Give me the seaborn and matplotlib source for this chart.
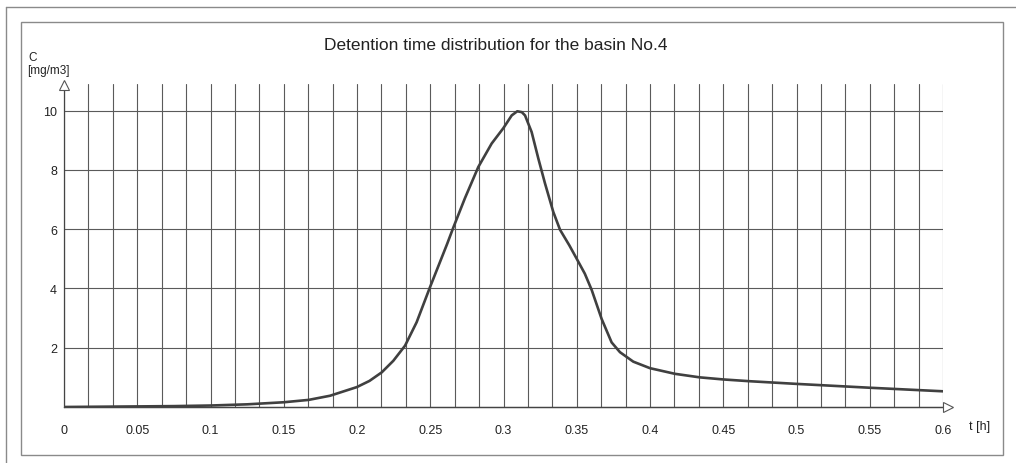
import numpy as np
import pandas as pd
import matplotlib
matplotlib.use('Agg')
import matplotlib.pyplot as plt
from matplotlib.patches import Rectangle
from matplotlib.lines import Line2D
import seaborn as sns

# values
t_h = [0.0, 0.025, 0.05, 0.075, 0.1, 0.125, 0.15, 0.167, 0.1816, 0.1998, 0.2085,
       0.2169, 0.2248, 0.2328, 0.2407, 0.2498, 0.2567, 0.2615, 0.2657, 0.2737,
       0.2828, 0.2919, 0.2999, 0.3056, 0.3094, 0.3125, 0.3147, 0.3192, 0.3238,
       0.3283, 0.334, 0.3386, 0.345, 0.35, 0.3555, 0.3602, 0.367, 0.3738,
       0.3795, 0.3886, 0.4, 0.417, 0.434, 0.45, 0.468, 0.5, 0.55, 0.6]
conc = [0.0, 0.01, 0.02, 0.03, 0.05, 0.09, 0.16, 0.24, 0.38, 0.67, 0.88,
        1.17, 1.56, 2.07, 2.86, 4.04, 4.9, 5.5, 6.05, 7.05,
        8.1, 8.89, 9.41, 9.84, 9.98, 9.95, 9.84, 9.28, 8.38,
        7.55, 6.58, 5.98, 5.45, 5.0, 4.5, 3.95, 2.97, 2.18,
        1.85, 1.53, 1.31, 1.12, 1.0, 0.93, 0.87, 0.78, 0.65, 0.53]

x_ticks = [0, 0.05, 0.1, 0.15, 0.2, 0.25, 0.3, 0.35, 0.4, 0.45, 0.5, 0.55, 0.6]
x_labels = ['0', '0.05', '0.1', '0.15', '0.2', '0.25', '0.3', '0.35', '0.4',
            '0.45', '0.5', '0.55', '0.6']
y_ticks = [2, 4, 6, 8, 10]

df = pd.DataFrame({'t': t_h, 'C': conc})

sns.set_style('white')
plt.rcParams['font.family'] = ['Liberation Sans', 'DejaVu Sans']

W, H = 1016, 464
fig = plt.figure(figsize=(W / 100, H / 100), dpi=100)
ax = fig.add_axes([64 / W, (H - 408) / H, 879 / W, (408 - 85) / H])

grid_col = '#5a5a5a'
ax.set_xlim(0, 0.6)
ax.set_ylim(0, 10.9)
ax.set_xticks(x_ticks)
ax.set_xticklabels(x_labels)
ax.set_xticks(np.arange(0, 0.6001, 1 / 60), minor=True)
ax.set_yticks(y_ticks)
ax.grid(True, which='both', axis='x', color=grid_col, lw=0.8)
ax.grid(True, which='major', axis='y', color=grid_col, lw=0.8)
ax.tick_params(axis='x', which='major', length=3, width=0.8, color=grid_col,
               labelsize=9, pad=9, labelcolor='#222222')
ax.tick_params(axis='x', which='minor', length=0)
ax.tick_params(axis='y', length=4, width=0.8, color=grid_col, labelsize=9,
               pad=1, labelcolor='#222222')
for s in ['top', 'right']:
    ax.spines[s].set_visible(False)
for s in ['left', 'bottom']:
    ax.spines[s].set_color('#444444')
    ax.spines[s].set_linewidth(0.9)

sns.lineplot(data=df, x='t', y='C', ax=ax, color='#404040', lw=1.9)
ax.lines[-1].set_solid_joinstyle('round')
ax.set_xlabel('')
ax.set_ylabel('')

# axis arrows
ax.plot([0.6 + 0.0035], [0], marker='>', ms=7, mfc='white', mec='#555555',
        mew=0.8, clip_on=False, zorder=5)
ax.plot([0, 0.6 + 0.002], [0, 0], color='#444444', lw=0.9, clip_on=False)
ax.plot([0], [10.9 - 0.05], marker='^', ms=7, mfc='white', mec='#555555',
        mew=0.8, clip_on=False, zorder=5)

fig.text(496 / W, 1 - 45 / H, 'Detention time distribution for the basin No.4',
         ha='center', va='center', fontsize=12.5, color='#222222')
fig.text(28 / W, 1 - 58 / H, 'C', ha='left', va='center', fontsize=8.5,
         color='#222222')
fig.text(27 / W, 1 - 71 / H, '[mg/m3]', ha='left', va='center', fontsize=8.5,
         color='#222222')
fig.text(969 / W, 1 - 427 / H, 't [h]', ha='left', va='center', fontsize=9,
         color='#222222')

# frames
fig.add_artist(Rectangle((21 / W, 1 - 456 / H), (1003 - 21) / W, (456 - 23) / H,
                         transform=fig.transFigure, fill=False,
                         ec='#8a8a8a', lw=1.0))
fig.add_artist(Line2D([6 / W, 6 / W], [0, 1 - 8 / H], transform=fig.transFigure,
                      color='#8a8a8a', lw=1.0))
fig.add_artist(Line2D([6 / W, 1], [1 - 8 / H, 1 - 8 / H], transform=fig.transFigure,
                      color='#8a8a8a', lw=1.0))

fig.savefig('out.png', dpi=100, facecolor='white')
